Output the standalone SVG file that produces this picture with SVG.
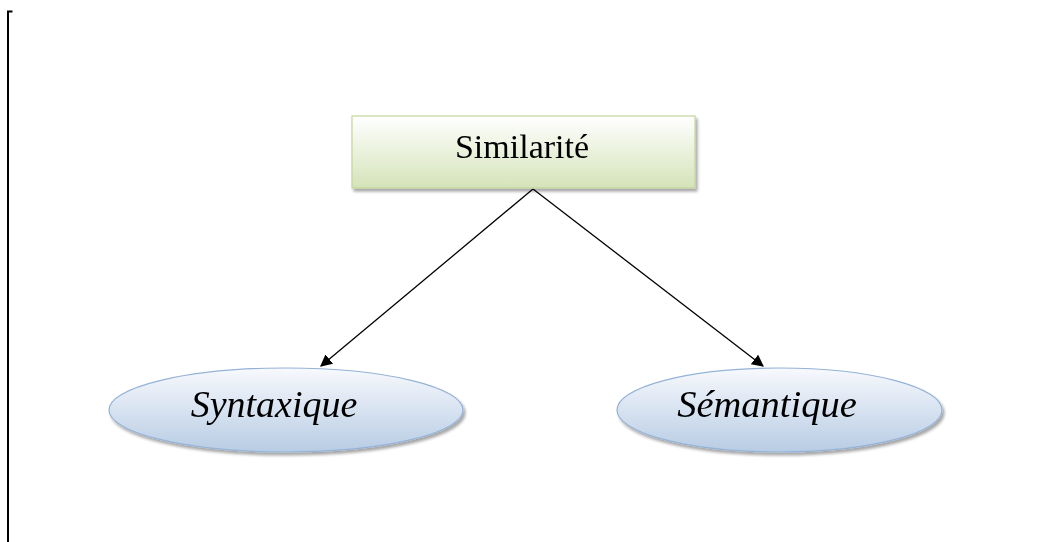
<svg xmlns="http://www.w3.org/2000/svg" width="1041" height="542" viewBox="0 0 1041 542">
  <style>
    .label { font-family: "Liberation Serif", "Times New Roman", serif; fill: #000; text-anchor: middle; }
    .oval { fill: url(#blueFill); stroke: #95b3d7; stroke-width: 1.2; }
    .edge { stroke: #000; stroke-width: 1.3; fill: none; marker-end: url(#arrow); }
  </style>
  <defs>
    <linearGradient id="greenFill" x1="0" y1="0" x2="0" y2="1">
      <stop offset="0" stop-color="#ffffff"/>
      <stop offset="1" stop-color="#d5e3b9"/>
    </linearGradient>
    <linearGradient id="blueFill" x1="0" y1="0" x2="0" y2="1">
      <stop offset="0" stop-color="#f7f9fd"/>
      <stop offset="1" stop-color="#b8cce4"/>
    </linearGradient>
    <filter id="shadow" x="-10%" y="-20%" width="120%" height="150%">
      <feGaussianBlur in="SourceAlpha" stdDeviation="1.5"/>
      <feOffset dx="2" dy="3" result="b"/>
      <feComponentTransfer><feFuncA type="linear" slope="0.35"/></feComponentTransfer>
      <feMerge><feMergeNode/><feMergeNode in="SourceGraphic"/></feMerge>
    </filter>
    <marker id="arrow" viewBox="0 0 10 10" refX="9" refY="5" markerWidth="12" markerHeight="12" markerUnits="userSpaceOnUse" orient="auto">
      <path d="M0,0 L10,5 L0,10 z" fill="#000"/>
    </marker>
  </defs>

  <rect width="1041" height="542" fill="#fff"/>

  <!-- page frame -->
  <path d="M12.5,11.5 H8 V542" stroke="#000" stroke-width="2" fill="none"/>

  <g id="connectors">
    <line class="edge" x1="533" y1="189" x2="321" y2="366"/>
    <line class="edge" x1="533" y1="189" x2="763" y2="366"/>
  </g>

  <g id="similarite" filter="url(#shadow)">
    <rect x="352" y="116" width="343" height="72" fill="url(#greenFill)" stroke="#c3d69b" stroke-width="1.2"/>
    <text class="label" x="522" y="158" font-size="34">Similarité</text>
  </g>

  <g id="syntaxique" filter="url(#shadow)">
    <ellipse class="oval" cx="286" cy="410" rx="177" ry="42"/>
    <text class="label" x="274" y="417" font-size="38" font-style="italic">Syntaxique</text>
  </g>

  <g id="semantique" filter="url(#shadow)">
    <ellipse class="oval" cx="779.5" cy="410" rx="162.5" ry="42"/>
    <text class="label" x="767" y="417" font-size="38.5" font-style="italic">Sémantique</text>
  </g>
</svg>
